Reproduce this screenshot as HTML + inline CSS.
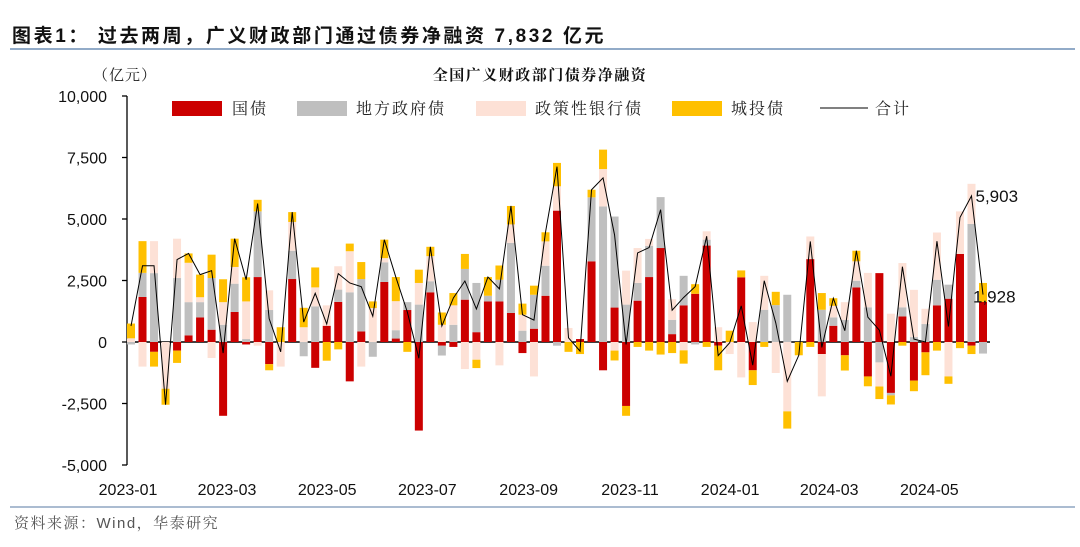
<!DOCTYPE html>
<html><head><meta charset="utf-8">
<style>
body{margin:0;background:#fff;}
svg{display:block;}
.serif{font-family:"Liberation Serif","Noto Serif CJK SC",serif;}
</style></head>
<body>
<svg id="chart" width="1080" height="547" xmlns="http://www.w3.org/2000/svg">
<text x="12" y="42" style="font-family:'Liberation Sans','Noto Sans CJK SC',sans-serif;font-weight:bold;font-size:19px;letter-spacing:2.6px" fill="#111">图表1：  过去两周，广义财政部门通过债券净融资 7,832 亿元</text>
<line x1="10" y1="49" x2="1075" y2="49" stroke="#6f8fb5" stroke-width="1.5"/>
<text x="93" y="80" class="serif" style="font-size:15px;letter-spacing:1px" fill="#222">（亿元）</text>
<text x="540" y="80" text-anchor="middle" class="serif" style="font-weight:bold;font-size:15px;letter-spacing:1.5px" fill="#111">全国广义财政部门债券净融资</text>
<g id="legend" class="serif" style="font-size:16px;letter-spacing:2px" fill="#222">
<rect x="172" y="101" width="50" height="15" fill="#cc0000"/>
<text x="232" y="114">国债</text>
<rect x="297" y="101" width="50" height="15" fill="#bfbfbf"/>
<text x="356" y="114">地方政府债</text>
<rect x="476" y="101" width="50" height="15" fill="#fde1d6"/>
<text x="535" y="114">政策性银行债</text>
<rect x="672" y="101" width="50" height="15" fill="#ffc000"/>
<text x="731" y="114">城投债</text>
<line x1="820" y1="108" x2="868" y2="108" stroke="#000" stroke-width="1"/>
<text x="875" y="114">合计</text>
</g>
<g id="axes"></g>
<g id="bars"></g>
<g id="lines"></g>
<line x1="10" y1="507" x2="1075" y2="507" stroke="#8fa6c2" stroke-width="1.5"/>
<text x="14" y="528" style="font-family:'Liberation Sans','Noto Serif CJK SC',sans-serif;font-size:15px;letter-spacing:1.5px" fill="#555">资料来源：Wind，华泰研究</text>
</svg>
<script>
const treasury=[0,1830,-400,0,-350,270,1000,500,-3000,1220,-100,2640,-900,0,2560,0,-1050,660,1630,-1600,430,0,2440,140,1300,-3600,2020,-150,-200,1720,400,1650,1650,1180,-450,540,1880,5340,0,120,3280,-1150,1400,-2600,1680,2640,3820,320,1490,1960,3920,-150,0,2630,-1150,0,0,0,0,3370,-490,660,-540,2220,-1400,2800,-2070,1040,-1570,-420,1490,1760,3580,-150,1630];
const localGov=[-100,980,2800,0,2600,1350,620,2100,700,1150,120,2670,1300,0,1150,-580,1450,0,500,2020,2130,-600,800,340,320,1520,450,-400,700,1250,2000,230,880,2850,460,1380,1220,-150,0,0,2600,5510,3700,1520,720,1270,2070,580,1200,-100,240,0,0,0,0,1310,1500,1920,0,0,1310,340,900,270,1410,-830,-100,370,200,730,1040,570,0,4800,-470];
const policyBank=[150,-1000,1300,-1900,1600,1600,200,-650,920,680,1530,-150,800,-1000,1170,600,770,830,950,1670,-1000,1380,170,1180,0,880,1020,700,790,-1100,-720,0,-950,750,650,-1400,990,990,570,0,0,1520,-350,1380,1420,280,0,840,-340,0,340,600,-490,-1440,810,1380,-1260,-2820,0,920,-1720,470,720,790,1400,-980,1150,1800,1920,620,1920,-1400,1730,1630,0];
const lgfv=[600,1290,-600,-650,-500,380,920,950,930,1150,980,470,-250,600,400,790,810,-760,-300,310,690,270,750,980,-400,540,380,500,500,610,-340,760,580,750,450,370,370,950,-400,-490,310,790,-400,-400,-200,-350,-510,-450,-540,390,-200,-1000,460,280,-600,-200,540,-700,-540,-200,680,310,-620,430,-400,-510,-370,-150,-430,-930,-350,-300,-250,-340,770];
const yTicks=[-5000,-2500,0,2500,5000,7500,10000];
const xLabels=["2023-01","2023-03","2023-05","2023-07","2023-09","2023-11","2024-01","2024-03","2024-05"];
const xLabelIdx=[0,8.6,17.3,26,34.8,43.6,52.3,60.9,69.6];
const labelTotals=[{i:74,v:"5,903"},{i:75,v:"1,928"}];

const NS="http://www.w3.org/2000/svg";
const gA=document.getElementById('axes'),gB=document.getElementById('bars'),gL=document.getElementById('lines');
const y0=342,pxPer=369/15000;
const yS=v=>y0-v*pxPer;
const x0=131,step=(983-131)/74;
const xS=i=>x0+i*step;
function mk(tag,attrs,parent){const e=document.createElementNS(NS,tag);for(const k in attrs)e.setAttribute(k,attrs[k]);parent.appendChild(e);return e;}

const ya=mk('line',{x1:127,y1:yS(10000),x2:127,y2:yS(-5000),stroke:'#000','stroke-width':1.3},gA);


yTicks.forEach(t=>{
  const tk=mk('line',{x1:122,y1:yS(t),x2:127,y2:yS(t),stroke:'#000','stroke-width':1.3},gA);
  
  
  const tx=mk('text',{x:107,y:yS(t)+6,'text-anchor':'end','font-family':'Liberation Sans, sans-serif','font-size':16,fill:'#111'},gA);
  tx.textContent=t.toLocaleString('en-US');
  
  
});
xLabels.forEach((l,k)=>{
  const tx=mk('text',{x:xS(xLabelIdx[k])-3,y:495,'text-anchor':'middle','font-family':'Liberation Sans, sans-serif','font-size':16,fill:'#111'},gA);
  tx.textContent=l;
  
  
});

const series=[[treasury,'#cc0000','treasury'],[localGov,'#bfbfbf','local-gov'],[policyBank,'#fde1d6','policy-bank'],[lgfv,'#ffc000','lgfv']];
const totals=[];
const bw=8;
for(let i=0;i<treasury.length;i++){
  let pos=0,neg=0;
  series.forEach(([arr,col,nm])=>{
    const v=arr[i]; if(!v)return;
    let a,b;
    if(v>0){a=pos;b=pos+v;pos=b;}else{a=neg;b=neg+v;neg=b;}
    const r=mk('rect',{x:xS(i)-bw/2,y:Math.min(yS(a),yS(b)),width:bw,height:Math.abs(yS(a)-yS(b)),fill:col},gB);
    
    
  });
  totals.push(pos+neg);
}
const xa=mk('line',{x1:127,y1:y0,x2:990,y2:y0,stroke:'#000','stroke-width':1.5},gA);


const pl=mk('polyline',{points:totals.map((v,i)=>xS(i)+','+yS(v)).join(' '),fill:'none',stroke:'#000','stroke-width':1},gL);


labelTotals.forEach(o=>{
  const i=o.i-1;
  const tx=mk('text',{x:o.i===74?xS(i)+4:xS(i)-10,y:yS(totals[i])+(o.i===74?6:8),'font-family':'Liberation Sans, sans-serif','font-size':17,fill:'#111'},gL);
  tx.textContent=o.v;
  
  
});
</script>
</body></html>
